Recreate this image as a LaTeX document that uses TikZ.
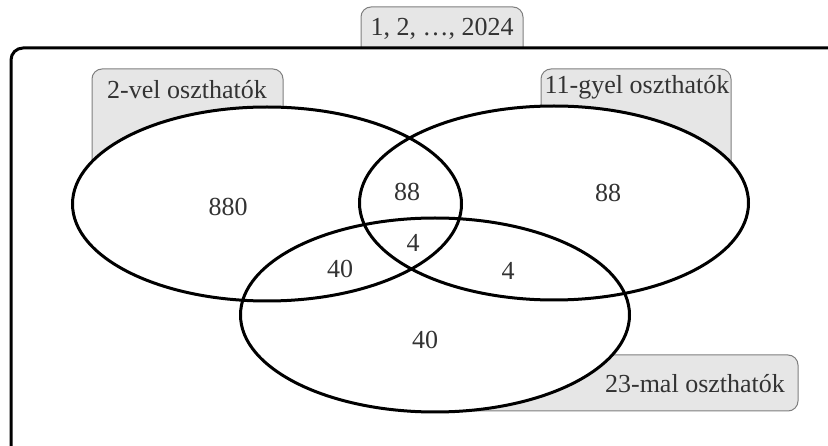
\documentclass[tikz,border=0pt]{standalone}
\usepackage{fontspec}
\setmainfont{Liberation Serif}
\usetikzlibrary{shapes.geometric}
\definecolor{tabgray}{HTML}{E6E6E6}
\definecolor{tabline}{HTML}{7F7F7F}
\definecolor{txtgray}{HTML}{333333}
\tikzset{
  tab/.style = {fill=tabgray, draw=tabline, line width=1pt, rounded corners=10pt},
  setoval/.style = {ellipse, draw=black, line width=3pt, minimum width=389pt, minimum height=194pt, inner sep=0pt},
  lbl/.style = {text=txtgray, font=\fontsize{26}{30}\selectfont, inner sep=0pt},
}
\begin{document}
\begin{tikzpicture}[x=1pt, y=-1pt]
\useasboundingbox (0,0) rectangle (828,446);
\clip (0,0) rectangle (828,446);
%coordinate
    \coordinate (c1) at (267,204); \coordinate (c2) at (554,203);
    \coordinate (c3) at (435,315);
%tabs
    \draw[tab] (361,48) [rounded corners=10pt] -- (361,7) -- (523,7) [sharp corners] -- (523,48) -- cycle;
    \draw[tab] (92,69) rectangle (283,200);
    \draw[tab] (541,69) rectangle (731,200);
    \draw[tab] (450,355) rectangle (798,411);
    \node[lbl, anchor=base] (all) at (442,36) {1, 2, \ldots, 2024};
    \node[lbl, anchor=base] (t2) at (187,99) {2-vel oszthatók};
    \node[lbl, anchor=base] (t11) at (637,94) {11-gyel oszthatók};
    \node[lbl, anchor=base] (t23) at (695,393) {23-mal oszthatók};
%universe
    \draw[line width=3pt, rounded corners=12pt] (11,48) rectangle (850,470);
%sets
    \fill[white] (c1) ellipse [x radius=194.5, y radius=97];
    \fill[white] (c2) ellipse [x radius=194.5, y radius=97];
    \fill[white] (c3) ellipse [x radius=194.5, y radius=97];
    \node[setoval] (s2) at (c1) {};
    \node[setoval] (s11) at (c2) {};
    \node[setoval] (s23) at (c3) {};
%numbers
    \node[lbl] (n2) at (228,207) {880};
    \node[lbl] (n11) at (608,193) {88};
    \node[lbl] (n23) at (425,340) {40};
    \node[lbl] (n2n11) at (407,192) {88};
    \node[lbl] (n2n23) at (340,269) {40};
    \node[lbl] (n11n23) at (508,271) {4};
    \node[lbl] (nall) at (413,243) {4};
\end{tikzpicture}
\end{document}
